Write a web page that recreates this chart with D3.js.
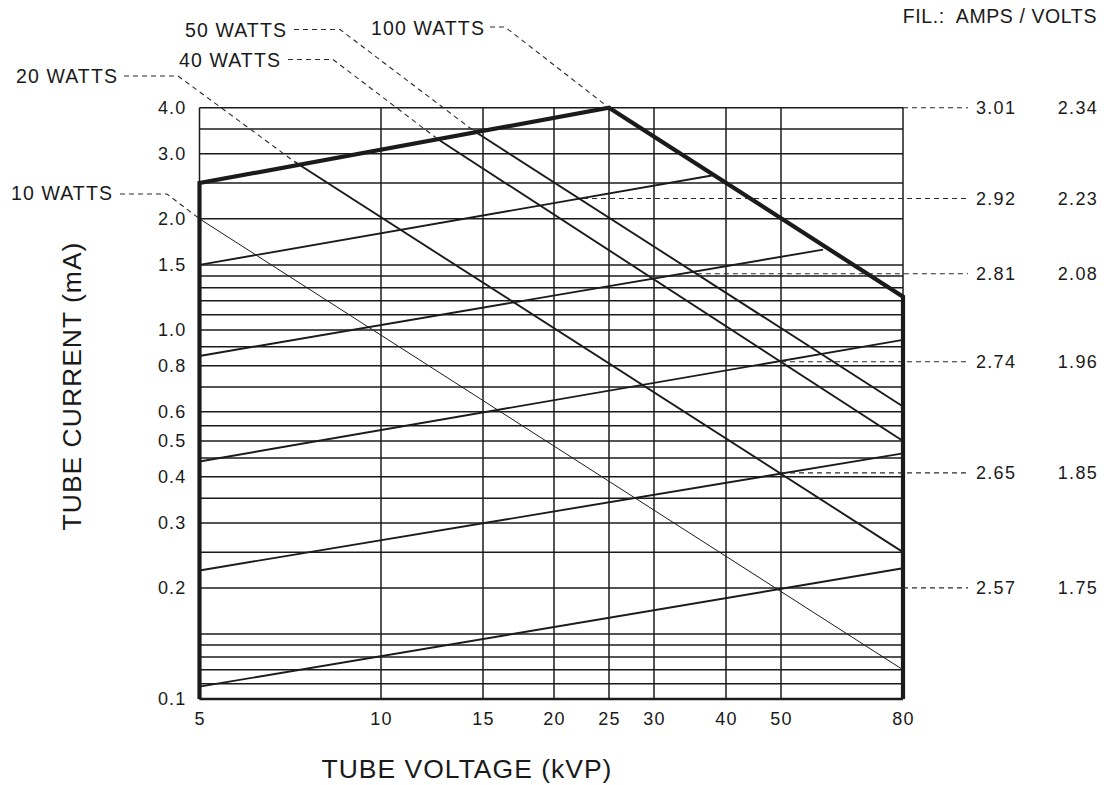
<!DOCTYPE html>
<html>
<head>
<meta charset="utf-8">
<script src="https://cdn.jsdelivr.net/npm/d3@7"></script>
<style>
  body { margin: 0; background: #fff; }
  text { font-family: "Liberation Sans", Arial, Helvetica, sans-serif; fill: #1a1a1a; }
</style>
</head>
<body>
<svg width="1104" height="785"></svg>
<script>
// axis ticks
const xTicks = [5, 10, 15, 20, 25, 30, 40, 50, 80];
const yTicks = [0.1, 0.2, 0.3, 0.4, 0.5, 0.6, 0.8, 1.0, 1.5, 2.0, 3.0, 4.0];
const yGrid = [0.1, 0.11, 0.12, 0.13, 0.14, 0.15, 0.2, 0.25, 0.3, 0.35, 0.4, 0.45, 0.5, 0.55,
    0.6, 0.7, 0.8, 0.9, 1.0, 1.1, 1.2, 1.3, 1.4, 1.5, 2.0, 2.5, 3.0, 3.5, 4.0];

// constant power lines (kV, mA)
const wattLabels = ["10 WATTS", "20 WATTS", "40 WATTS", "50 WATTS", "100 WATTS"];
const wattStart = [[5, 2.0], [7.2, 2.85], [12.56, 3.28], [14.43, 3.47], [25, 4.0]];
const wattEnd = [[80, 0.12], [80, 0.25], [80, 0.5], [80, 0.62], [80, 1.23]];

// filament lines (kV, mA)
const filAmps = ["3.01", "2.92", "2.81", "2.74", "2.65", "2.57"];
const filVolts = ["2.34", "2.23", "2.08", "1.96", "1.85", "1.75"];
const filStart = [[5, 2.5], [5, 1.5], [5, 0.85], [5, 0.44], [5, 0.223], [5, 0.108]];
const filEnd = [[25, 4.0], [37.8, 2.62], [58.8, 1.65], [80, 0.94], [80, 0.463], [80, 0.226]];
const filMark = [[80, 4.0], [22.5, 2.27], [35.6, 1.42], [50, 0.82], [50, 0.41], [80, 0.2]];

// rating limit outline
const limit = [[5, 0.1], [5, 2.5], [25, 4.0], [80, 1.23], [80, 0.1]];

const svg = d3.select("svg");
const ink = "#1b1b1b";

// the printed kV scale is not quite logarithmic, so each decade piece is set separately
const x = d3.scaleLog()
    .domain(xTicks)
    .range([199.5, 381, 483, 554, 609, 654, 726, 781, 903]);

const y = d3.scaleLog()
    .domain([0.1, 4])
    .range([699, 107.7]);

const line = d3.line().x(d => x(d[0])).y(d => y(d[1]));

// grid
svg.append("g")
    .selectAll("line")
    .data(yGrid)
    .enter().append("line")
    .attr("x1", x(5)).attr("x2", x(80))
    .attr("y1", d => y(d)).attr("y2", d => y(d))
    .attr("stroke", ink).attr("stroke-width", 1.5);

svg.append("g")
    .selectAll("line")
    .data(xTicks)
    .enter().append("line")
    .attr("x1", d => x(d)).attr("x2", d => x(d))
    .attr("y1", y(0.1)).attr("y2", y(4))
    .attr("stroke", ink).attr("stroke-width", 1.5);

// watt lines
svg.append("g")
    .selectAll("path")
    .data(wattLabels.slice(0, 4))
    .enter().append("path")
    .attr("d", (d, i) => line([wattStart[i], wattEnd[i]]))
    .attr("fill", "none")
    .attr("stroke", ink)
    .attr("stroke-width", (d, i) => i === 0 ? 1 : 1.9);

// filament lines
svg.append("g")
    .selectAll("path")
    .data(filAmps.slice(1))
    .enter().append("path")
    .attr("d", (d, i) => line([filStart[i + 1], filEnd[i + 1]]))
    .attr("fill", "none")
    .attr("stroke", ink)
    .attr("stroke-width", 1.9);

// bottom edge and the limit outline
svg.append("line")
    .attr("x1", x(5)).attr("x2", x(80))
    .attr("y1", y(0.1)).attr("y2", y(0.1))
    .attr("stroke", ink).attr("stroke-width", 2.6);

svg.append("path")
    .attr("d", line(limit))
    .attr("fill", "none")
    .attr("stroke", ink)
    .attr("stroke-width", 4.2)
    .attr("stroke-linejoin", "miter");

// axes (labels only)
const yAxis = svg.append("g")
    .attr("transform", `translate(${x(5)},0)`)
    .call(d3.axisLeft(y).tickValues(yTicks).tickFormat(d3.format(".1f")).tickSize(0).tickPadding(13));

const xAxis = svg.append("g")
    .attr("transform", `translate(0,${y(0.1)})`)
    .call(d3.axisBottom(x).tickValues(xTicks).tickFormat(d => d).tickSize(0).tickPadding(13));

[yAxis, xAxis].forEach(g => {
    g.select(".domain").remove();
    g.selectAll("text")
        .style("font-family", '"Liberation Sans", Arial, sans-serif')
        .style("font-size", "18px")
        .style("letter-spacing", "1.2px")
        .attr("fill", ink);
});

svg.append("text")
    .attr("x", 467).attr("y", 778)
    .attr("text-anchor", "middle")
    .style("font-size", "26.5px").style("letter-spacing", "1px")
    .text("TUBE VOLTAGE (kVP)");

svg.append("text")
    .attr("transform", "translate(80.5,386) rotate(-90)")
    .attr("text-anchor", "middle")
    .style("font-size", "26.5px").style("letter-spacing", "1px")
    .text("TUBE CURRENT (mA)");

// watt callouts: text end, text baseline, dashed elbow
const wattCallout = [
    { tx: 113, ty: 200, elbow: [[120, 194], [167, 194]] },
    { tx: 118, ty: 82.7, elbow: [[124, 76], [178, 76]] },
    { tx: 281, ty: 66.7, elbow: [[288, 59.5], [333, 59.5]] },
    { tx: 287, ty: 37.3, elbow: [[294, 29.5], [340, 29.5]] },
    { tx: 485, ty: 35, elbow: [[490, 27], [505, 27]] }
];

const dash = svg.append("g")
    .attr("fill", "none")
    .attr("stroke", "#2a2a2a")
    .attr("stroke-width", 1.1)
    .attr("stroke-dasharray", "5,4");

wattLabels.forEach((w, i) => {
    const c = wattCallout[i];
    const p = [...c.elbow, [x(wattStart[i][0]), y(wattStart[i][1])]];
    dash.append("path").attr("d", d3.line()(p));
    svg.append("text")
        .attr("x", c.tx).attr("y", c.ty)
        .attr("text-anchor", "end")
        .style("font-size", "19.5px").style("letter-spacing", "1.1px")
        .text(w);
});

// filament callouts
filAmps.forEach((a, i) => {
    const yy = y(filMark[i][1]);
    dash.append("path").attr("d", d3.line()([[x(filMark[i][0]), yy], [968, yy]]));
    svg.append("text")
        .attr("x", 976).attr("y", yy + 6.5)
        .style("font-size", "18px").style("letter-spacing", "1.3px")
        .text(a);
    svg.append("text")
        .attr("x", 1098).attr("y", yy + 6.5)
        .attr("text-anchor", "end")
        .style("font-size", "18px").style("letter-spacing", "1.3px")
        .text(filVolts[i]);
});

svg.append("text")
    .attr("x", 1097).attr("y", 22.7)
    .attr("text-anchor", "end")
    .style("font-size", "19.5px").style("letter-spacing", "0.6px")
    .style("white-space", "pre")
    .text("FIL.:  AMPS / VOLTS");
</script>
</body>
</html>
